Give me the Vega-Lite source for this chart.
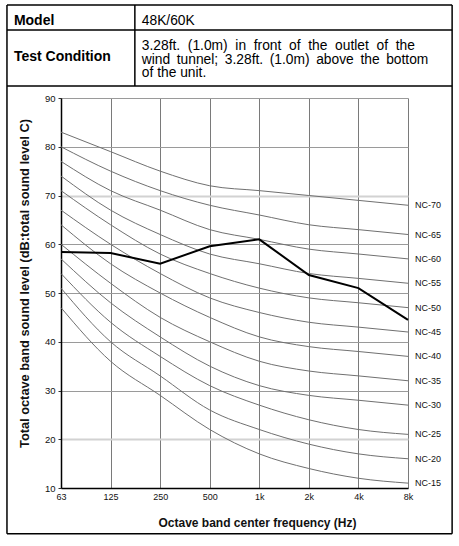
{
  "$schema": "https://vega.github.io/schema/vega-lite/v6.json",
  "width": 347,
  "height": 390,
  "autosize": {"type": "none"},
  "padding": {"left": 61, "top": 98, "right": 51, "bottom": 58},
  "background": "white",
  "datasets": {
    "nc": [
      {"curve": "NC-15", "band": 0, "db": 47}, {"curve": "NC-15", "band": 1, "db": 36}, {"curve": "NC-15", "band": 2, "db": 29}, {"curve": "NC-15", "band": 3, "db": 22},
      {"curve": "NC-15", "band": 4, "db": 17}, {"curve": "NC-15", "band": 5, "db": 14}, {"curve": "NC-15", "band": 6, "db": 12}, {"curve": "NC-15", "band": 7, "db": 11},
      {"curve": "NC-20", "band": 0, "db": 51}, {"curve": "NC-20", "band": 1, "db": 40}, {"curve": "NC-20", "band": 2, "db": 33}, {"curve": "NC-20", "band": 3, "db": 26},
      {"curve": "NC-20", "band": 4, "db": 22}, {"curve": "NC-20", "band": 5, "db": 19}, {"curve": "NC-20", "band": 6, "db": 17}, {"curve": "NC-20", "band": 7, "db": 16},
      {"curve": "NC-25", "band": 0, "db": 54}, {"curve": "NC-25", "band": 1, "db": 44}, {"curve": "NC-25", "band": 2, "db": 37}, {"curve": "NC-25", "band": 3, "db": 31},
      {"curve": "NC-25", "band": 4, "db": 27}, {"curve": "NC-25", "band": 5, "db": 24}, {"curve": "NC-25", "band": 6, "db": 22}, {"curve": "NC-25", "band": 7, "db": 21},
      {"curve": "NC-30", "band": 0, "db": 57}, {"curve": "NC-30", "band": 1, "db": 48}, {"curve": "NC-30", "band": 2, "db": 41}, {"curve": "NC-30", "band": 3, "db": 35},
      {"curve": "NC-30", "band": 4, "db": 31}, {"curve": "NC-30", "band": 5, "db": 29}, {"curve": "NC-30", "band": 6, "db": 28}, {"curve": "NC-30", "band": 7, "db": 27},
      {"curve": "NC-35", "band": 0, "db": 60}, {"curve": "NC-35", "band": 1, "db": 52}, {"curve": "NC-35", "band": 2, "db": 45}, {"curve": "NC-35", "band": 3, "db": 40},
      {"curve": "NC-35", "band": 4, "db": 36}, {"curve": "NC-35", "band": 5, "db": 34}, {"curve": "NC-35", "band": 6, "db": 33}, {"curve": "NC-35", "band": 7, "db": 32},
      {"curve": "NC-40", "band": 0, "db": 64}, {"curve": "NC-40", "band": 1, "db": 56}, {"curve": "NC-40", "band": 2, "db": 50}, {"curve": "NC-40", "band": 3, "db": 45},
      {"curve": "NC-40", "band": 4, "db": 41}, {"curve": "NC-40", "band": 5, "db": 39}, {"curve": "NC-40", "band": 6, "db": 38}, {"curve": "NC-40", "band": 7, "db": 37},
      {"curve": "NC-45", "band": 0, "db": 67}, {"curve": "NC-45", "band": 1, "db": 60}, {"curve": "NC-45", "band": 2, "db": 54}, {"curve": "NC-45", "band": 3, "db": 49},
      {"curve": "NC-45", "band": 4, "db": 46}, {"curve": "NC-45", "band": 5, "db": 44}, {"curve": "NC-45", "band": 6, "db": 43}, {"curve": "NC-45", "band": 7, "db": 42},
      {"curve": "NC-50", "band": 0, "db": 71}, {"curve": "NC-50", "band": 1, "db": 64}, {"curve": "NC-50", "band": 2, "db": 58}, {"curve": "NC-50", "band": 3, "db": 54},
      {"curve": "NC-50", "band": 4, "db": 51}, {"curve": "NC-50", "band": 5, "db": 49}, {"curve": "NC-50", "band": 6, "db": 48}, {"curve": "NC-50", "band": 7, "db": 47},
      {"curve": "NC-55", "band": 0, "db": 74}, {"curve": "NC-55", "band": 1, "db": 67}, {"curve": "NC-55", "band": 2, "db": 62}, {"curve": "NC-55", "band": 3, "db": 58},
      {"curve": "NC-55", "band": 4, "db": 56}, {"curve": "NC-55", "band": 5, "db": 54}, {"curve": "NC-55", "band": 6, "db": 53}, {"curve": "NC-55", "band": 7, "db": 52},
      {"curve": "NC-60", "band": 0, "db": 77}, {"curve": "NC-60", "band": 1, "db": 71}, {"curve": "NC-60", "band": 2, "db": 67}, {"curve": "NC-60", "band": 3, "db": 63},
      {"curve": "NC-60", "band": 4, "db": 61}, {"curve": "NC-60", "band": 5, "db": 59}, {"curve": "NC-60", "band": 6, "db": 58}, {"curve": "NC-60", "band": 7, "db": 57},
      {"curve": "NC-65", "band": 0, "db": 80}, {"curve": "NC-65", "band": 1, "db": 75}, {"curve": "NC-65", "band": 2, "db": 71}, {"curve": "NC-65", "band": 3, "db": 68},
      {"curve": "NC-65", "band": 4, "db": 66}, {"curve": "NC-65", "band": 5, "db": 64}, {"curve": "NC-65", "band": 6, "db": 63}, {"curve": "NC-65", "band": 7, "db": 62},
      {"curve": "NC-70", "band": 0, "db": 83}, {"curve": "NC-70", "band": 1, "db": 79}, {"curve": "NC-70", "band": 2, "db": 75}, {"curve": "NC-70", "band": 3, "db": 72},
      {"curve": "NC-70", "band": 4, "db": 71}, {"curve": "NC-70", "band": 5, "db": 70}, {"curve": "NC-70", "band": 6, "db": 69}, {"curve": "NC-70", "band": 7, "db": 68}
    ],
    "measured": [
      {"band": 0, "db": 58.4}, {"band": 1, "db": 58.2}, {"band": 2, "db": 56.0}, {"band": 3, "db": 59.6},
      {"band": 4, "db": 61.0}, {"band": 5, "db": 53.7}, {"band": 6, "db": 51.0}, {"band": 7, "db": 44.5}
    ],
    "frame": [
      {"band": -1.09, "band2": 7.89, "db": 109.1, "db2": 109.1},
      {"band": -1.09, "band2": 7.89, "db": 103.95, "db2": 103.95},
      {"band": -1.09, "band2": 7.89, "db": 92.46, "db2": 92.46},
      {"band": -1.09, "band2": 7.89, "db": 0.6, "db2": 0.6},
      {"band": -1.09, "band2": -1.09, "db": 109.1, "db2": 0.6},
      {"band": 7.89, "band2": 7.89, "db": 109.1, "db2": 0.6},
      {"band": 1.49, "band2": 1.49, "db": 109.1, "db2": 92.46}
    ],
    "heads": [
      {"band": -0.95, "db": 105.86, "text": "Model"},
      {"band": -0.95, "db": 98.41, "text": "Test Condition"}
    ],
    "cells": [
      {"band": 1.63, "db": 105.86, "text": "48K/60K"},
      {"band": 1.63, "db": 100.67, "text": "3.28ft. \u00a0(1.0m) \u00a0in \u00a0front \u00a0of \u00a0the \u00a0outlet \u00a0of \u00a0the\nwind \u2009tunnel; \u20093.28ft. \u2009(1.0m) \u2009above \u2009the \u2009bottom\nof the unit."}
    ]
  },
  "layer": [
    {
      "data": {"name": "nc"},
      "mark": {"type": "line", "interpolate": "monotone", "color": "#707070", "strokeWidth": 1},
      "encoding": {
        "x": {
          "field": "band", "type": "quantitative",
          "scale": {"domain": [0, 7], "nice": false, "zero": false},
          "axis": {
            "title": "Octave band center frequency (Hz)",
            "values": [0, 1, 2, 3, 4, 5, 6, 7],
            "labelExpr": "['63','125','250','500','1k','2k','4k','8k'][datum.value]",
            "labelFont": "Liberation Sans", "labelFontSize": 9, "labelColor": "#111",
            "labelPadding": 4, "ticks": false, "labelFlush": false,
            "domainColor": "black", "domainWidth": 1.5,
            "grid": true, "gridColor": "#7a7a7a", "gridWidth": 1,
            "titleFont": "Liberation Sans", "titleFontSize": 12, "titleFontWeight": "bold", "titleColor": "#111",
            "titleX": 196, "titleY": 34, "titleBaseline": "middle"
          }
        },
        "y": {
          "field": "db", "type": "quantitative",
          "scale": {"domain": [10, 90], "nice": false, "zero": false},
          "axis": {
            "title": "Total octave band sound level (dB:total sound level C)",
            "values": [10, 15, 20, 25, 30, 35, 40, 45, 50, 55, 60, 65, 70, 75, 80, 85, 90],
            "labelExpr": "datum.value % 10 == 0 ? datum.label : ''",
            "labelFont": "Liberation Sans", "labelFontSize": 9.5, "labelColor": "#111",
            "labelPadding": 3, "tickSize": 3, "tickColor": "#333",
            "domainColor": "black", "domainWidth": 1.5,
            "grid": true,
            "gridColor": {"condition": {"test": "datum.value == 20 || datum.value == 70", "value": "#d2d2d2"}, "value": "#9a9a9a"},
            "gridWidth": {"condition": {"test": "datum.value == 20 || datum.value == 70", "value": 2}, "value": 1},
            "gridOpacity": {"condition": {"test": "datum.value % 10 == 0", "value": 1}, "value": 0},
            "titleFont": "Liberation Sans", "titleFontSize": 12.8, "titleFontWeight": "bold", "titleColor": "#111",
            "titleX": -37, "titleY": 185, "titleBaseline": "middle"
          }
        },
        "detail": {"field": "curve"}
      }
    },
    {
      "data": {"name": "nc"},
      "transform": [{"filter": "datum.band == 7"}],
      "mark": {"type": "text", "align": "left", "baseline": "middle", "dx": 7, "font": "Liberation Sans", "fontSize": 9, "color": "#111"},
      "encoding": {
        "x": {"field": "band", "type": "quantitative"},
        "y": {"field": "db", "type": "quantitative"},
        "text": {"field": "curve"}
      }
    },
    {
      "data": {"name": "measured"},
      "mark": {"type": "line", "color": "black", "strokeWidth": 2},
      "encoding": {
        "x": {"field": "band", "type": "quantitative"},
        "y": {"field": "db", "type": "quantitative"}
      }
    },
    {
      "data": {"name": "frame"},
      "mark": {"type": "rule", "color": "black", "strokeWidth": 1.5, "clip": false},
      "encoding": {
        "x": {"field": "band", "type": "quantitative"},
        "x2": {"field": "band2"},
        "y": {"field": "db", "type": "quantitative"},
        "y2": {"field": "db2"}
      }
    },
    {
      "data": {"name": "heads"},
      "mark": {"type": "text", "align": "left", "baseline": "middle", "font": "Liberation Sans", "fontSize": 14, "fontWeight": "bold", "color": "black", "clip": false},
      "encoding": {
        "x": {"field": "band", "type": "quantitative"},
        "y": {"field": "db", "type": "quantitative"},
        "text": {"field": "text"}
      }
    },
    {
      "data": {"name": "cells"},
      "mark": {"type": "text", "align": "left", "baseline": "middle", "lineBreak": "\n", "lineHeight": 13.7, "font": "Liberation Sans", "fontSize": 13.8, "color": "black", "clip": false},
      "encoding": {
        "x": {"field": "band", "type": "quantitative"},
        "y": {"field": "db", "type": "quantitative"},
        "text": {"field": "text"}
      }
    }
  ],
  "config": {
    "view": {"stroke": null}
  }
}
